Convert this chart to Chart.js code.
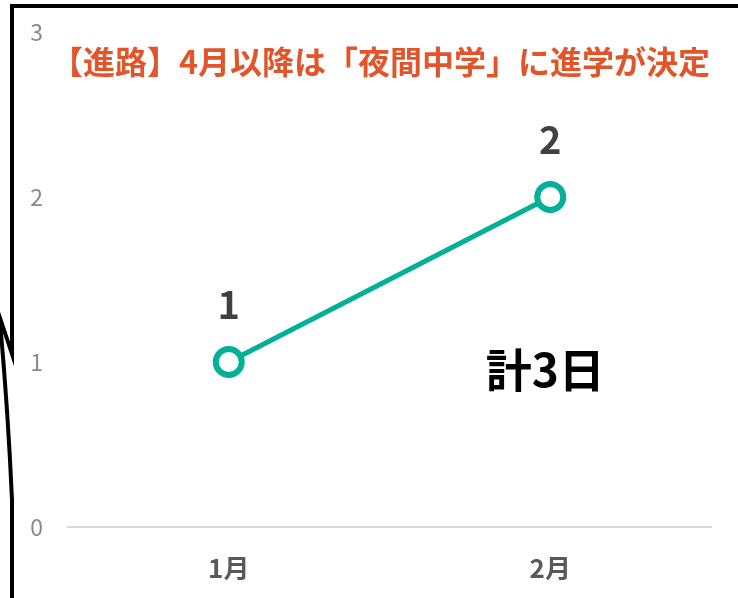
<!DOCTYPE html>
<html lang="ja">
<head>
<meta charset="utf-8">
<script src="https://cdn.jsdelivr.net/npm/chart.js@4.4.1/dist/chart.umd.min.js"></script>
<style>
  html, body { margin: 0; padding: 0; background: #fff; }
  #wrap { position: relative; width: 738px; height: 598px; }
</style>
</head>
<body>
<div id="wrap"><canvas id="chart" width="738" height="598"></canvas></div>
<script>
const months = ['1月', '2月']
const days = [1, 2]
const chartTitle = '【進路】4月以降は「夜間中学」に進学が決定'
const totalNote = '計3日'

const FONT = "'Noto Sans CJK JP', 'Noto Sans', sans-serif"
const TEAL = '#00b097'

// black frame with a torn break on the left side
const framePlugin = {
  id: 'frame',
  afterDraw(chart) {
    const ctx = chart.ctx
    ctx.save()
    ctx.strokeStyle = '#000'
    ctx.lineWidth = 4
    ctx.lineJoin = 'miter'
    ctx.beginPath()
    ctx.moveTo(-4, 306)
    ctx.lineTo(12, 354)
    ctx.lineTo(12, 6)
    ctx.lineTo(742, 6)
    ctx.stroke()
    ctx.beginPath()
    ctx.moveTo(0, 322)
    ctx.quadraticCurveTo(8, 410, 12, 500)
    ctx.lineTo(12, 602)
    ctx.stroke()
    ctx.restore()
  }
}

// value labels above points, the heading and the total note
const textPlugin = {
  id: 'texts',
  afterDatasetsDraw(chart) {
    const ctx = chart.ctx
    const area = chart.chartArea
    const meta = chart.getDatasetMeta(0)
    ctx.save()
    ctx.textAlign = 'center'
    ctx.textBaseline = 'middle'
    ctx.fillStyle = '#404040'
    ctx.font = 'bold 38px ' + FONT
    meta.data.forEach((pt, i) => {
      ctx.fillText(String(days[i]), pt.x, pt.y - 57)
    })

    ctx.fillStyle = '#e2552a'
    ctx.font = 'bold 32px ' + FONT
    ctx.textAlign = 'right'
    ctx.fillText(chartTitle, area.right - 1, area.top + 30)

    ctx.fillStyle = '#000'
    ctx.font = 'bold 46px ' + FONT
    ctx.textAlign = 'center'
    const x = chart.scales.x.getPixelForValue(1) - 5
    const y = chart.scales.y.getPixelForValue(0.955)
    ctx.fillText(totalNote, x, y)
    ctx.restore()
  }
}

new Chart(document.getElementById('chart'), {
  type: 'line',
  data: {
    labels: months,
    datasets: [{
      data: days,
      borderColor: TEAL,
      borderWidth: 5,
      pointRadius: 13,
      pointHoverRadius: 13,
      pointBorderWidth: 6,
      pointBackgroundColor: '#fff',
      pointBorderColor: TEAL,
      tension: 0
    }]
  },
  options: {
    responsive: false,
    animation: false,
    events: [],
    layout: { padding: { top: 32, right: 27, left: 0, bottom: 0 } },
    plugins: {
      legend: { display: false },
      tooltip: { enabled: false },
      title: { display: false }
    },
    scales: {
      x: {
        offset: true,
        grid: { display: false, drawTicks: false },
        border: { display: true, color: '#d9d9d9', width: 2 },
        ticks: {
          padding: 26,
          color: '#595959',
          font: { family: FONT, size: 26, weight: 'bold' }
        },
        afterFit(scale) {
          scale.height = 71
          scale.paddingLeft = 0
          scale.paddingRight = 0
        }
      },
      y: {
        min: 0,
        max: 3,
        grid: { display: false, drawTicks: false },
        border: { display: false },
        ticks: {
          stepSize: 1,
          padding: 25,
          color: '#8a8a8a',
          font: { family: FONT, size: 23, weight: 'normal' }
        },
        afterFit(scale) {
          scale.width = 68
          scale.paddingTop = 0
          scale.paddingBottom = 0
        }
      }
    }
  },
  plugins: [framePlugin, textPlugin]
})
</script>
</body>
</html>
